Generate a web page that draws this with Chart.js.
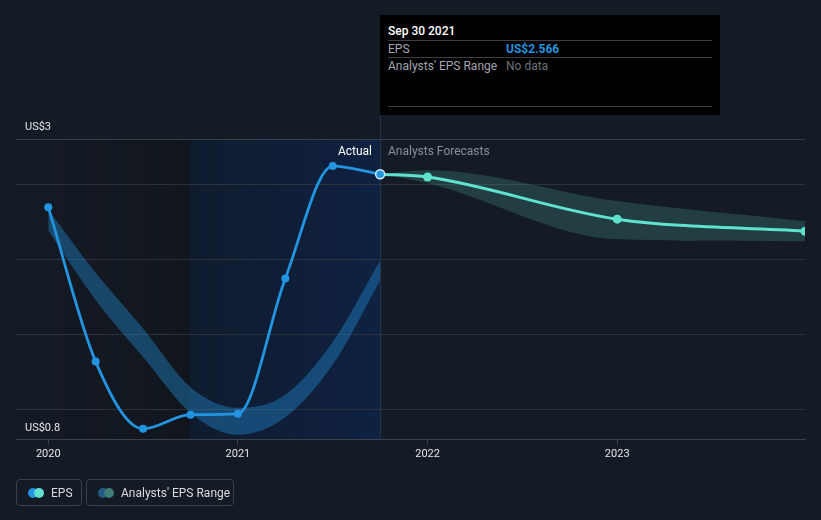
<!DOCTYPE html>
<html>
<head>
<meta charset="utf-8">
<script src="https://cdn.jsdelivr.net/npm/chart.js@4.4.0/dist/chart.umd.min.js"></script>
<style>
  html, body { margin: 0; padding: 0; background: #151b25; }
  #wrap { position: relative; width: 821px; height: 520px; overflow: hidden; font-family: Roboto, "Open Sans", sans-serif; }
  canvas { position: absolute; left: 0; top: 0; }
  .tip { position: absolute; background: #000; color: #fff; font-size: 12px; }
  .tip .row { position: absolute; left: 8px; right: 8px; height: 17px; line-height: 17px; border-top: 1px solid #3d3f44; }
  .tip .lab { position: absolute; left: 0; color: #a3a6ad; }
  .tip .val { position: absolute; left: 118px; }
  .note { position: absolute; font-size: 12px; line-height: 14px; white-space: nowrap; }
  .leg { position: absolute; top: 479px; height: 27px; border: 1px solid #3b404b; border-radius: 4px; font-size: 12px; color: #d8dade; line-height: 26px; box-sizing: border-box; }
  .leg .dots { position: absolute; left: 11px; top: 8px; width: 18px; height: 10px; }
  .leg .dots span { position: absolute; top: 0; width: 10px; height: 10px; border-radius: 50%; }
  .leg .txt { position: absolute; left: 34px; top: 0; white-space: nowrap; }
</style>
</head>
<body>
<div id="wrap">
  <canvas id="c" width="821" height="520"></canvas>
  <div class="tip" id="tip">
    <div style="position:absolute;left:8px;top:9px;font-weight:500;">Sep 30 2021</div>
    <div class="row" style="top:25px;"><span class="lab">EPS</span><span class="val" style="color:#2394df;font-weight:700;">US$2.566</span></div>
    <div class="row" style="top:42px;"><span class="lab">Analysts' EPS Range</span><span class="val" style="color:#6d7179;">No data</span></div>
    <div class="row" style="top:91px;"></div>
  </div>
  <div class="note" id="actual" style="color:#ffffff;">Actual</div>
  <div class="note" id="forecast" style="color:#8b8f97;">Analysts Forecasts</div>
  <div class="leg" style="left:16px;width:66px;">
    <div class="dots"><span style="left:0;background:#2394df;"></span><span style="left:6px;background:#5fe2ce;"></span></div>
    <div class="txt">EPS</div>
  </div>
  <div class="leg" style="left:86px;width:148px;">
    <div class="dots"><span style="left:0;background:#245a86;"></span><span style="left:6px;background:#3e7c76;"></span></div>
    <div class="txt">Analysts' EPS Range</div>
  </div>
</div>
<script>
// ---- data ----
const epsDates   = [2020.0, 2020.25, 2020.5, 2020.75, 2021.0, 2021.25, 2021.5, 2021.75];
const epsValues  = [2.347, 1.32, 0.873, 0.967, 0.973, 1.873, 2.62, 2.566];

const pastRangeDates = [2020.0, 2020.25, 2020.5, 2020.75, 2021.0, 2021.25, 2021.5, 2021.75];
const pastRangeHigh  = [2.33, 1.91, 1.54, 1.15, 1.013, 1.10, 1.45, 1.99];
const pastRangeLow   = [2.19, 1.73, 1.35, 0.98, 0.833, 0.95, 1.30, 1.86];

const fcDates  = [2021.75, 2022.0, 2023.0, 2023.99];
const fcValues = [2.566, 2.547, 2.267, 2.187];
const fcHigh   = [2.566, 2.593, 2.387, 2.253];
const fcLow    = [2.566, 2.507, 2.133, 2.12];

const xTickValues = [2020, 2021, 2022, 2023];
const yTickValues = [0.8, 1.0, 1.5, 2.0, 2.5, 2.8];
const yLabelMin = 'US$0.8';
const yLabelMax = 'US$3';
const nowDate = 2021.75;
const highlightStart = 2020.75;

const pts = (xs, ys) => xs.map((x, i) => ({ x: x, y: ys[i] }));

const bgPlugin = {
  id: 'bg',
  beforeDraw(chart) {
    const { ctx, chartArea: a, scales: { x } } = chart;
    const hx = x.getPixelForValue(highlightStart);
    const nx = x.getPixelForValue(nowDate);
    ctx.save();
    let g = ctx.createLinearGradient(a.left, 0, hx, 0);
    g.addColorStop(0, 'rgba(0,0,0,0)');
    g.addColorStop(1, 'rgba(0,0,0,0.18)');
    ctx.fillStyle = g;
    ctx.fillRect(a.left, a.top, hx - a.left, a.bottom - a.top);
    g = ctx.createLinearGradient(hx, 0, nx, 0);
    g.addColorStop(0, 'rgba(10,30,60,0.45)');
    g.addColorStop(1, 'rgba(10,40,90,0.55)');
    ctx.fillStyle = g;
    ctx.fillRect(hx, a.top, nx - hx, a.bottom - a.top);
    ctx.restore();
  },
  beforeDatasetsDraw(chart) {
    const { ctx, chartArea: a, scales: { x } } = chart;
    const nx = Math.round(x.getPixelForValue(nowDate)) + 0.5;
    ctx.save();
    ctx.strokeStyle = '#24344f';
    ctx.lineWidth = 1;
    ctx.beginPath();
    ctx.moveTo(nx, 15);
    ctx.lineTo(nx, a.bottom);
    ctx.stroke();
    ctx.restore();
  }
};

const chart = new Chart(document.getElementById('c'), {
  type: 'line',
  data: {
    datasets: [
      {
        label: 'EPS',
        data: pts(epsDates, epsValues),
        borderColor: '#2394df',
        backgroundColor: '#2394df',
        borderWidth: 2.8,
        pointRadius: epsValues.map((v, i) => i === epsValues.length - 1 ? 4.5 : 4),
        pointBackgroundColor: '#2394df',
        pointBorderColor: epsValues.map((v, i) => i === epsValues.length - 1 ? '#d8ecfb' : '#2394df'),
        pointBorderWidth: epsValues.map((v, i) => i === epsValues.length - 1 ? 1.5 : 0),
        cubicInterpolationMode: 'monotone',
        fill: false,
        order: 0
      },
      {
        label: 'Forecast',
        data: pts(fcDates, fcValues),
        borderColor: '#5fe2ce',
        backgroundColor: '#5fe2ce',
        borderWidth: 3,
        pointRadius: fcValues.map((v, i) => i === 0 ? 0 : 4.5),
        pointBorderWidth: 0,
        cubicInterpolationMode: 'monotone',
        fill: false,
        order: 1
      },
      {
        label: 'PastHigh',
        data: pts(pastRangeDates, pastRangeHigh),
        borderWidth: 0,
        borderColor: 'rgba(0,0,0,0)',
        pointRadius: 0,
        backgroundColor: 'rgba(35,148,223,0.38)',
        cubicInterpolationMode: 'monotone',
        fill: '+1',
        order: 2
      },
      {
        label: 'PastLow',
        data: pts(pastRangeDates, pastRangeLow),
        borderWidth: 0,
        borderColor: 'rgba(0,0,0,0)',
        pointRadius: 0,
        cubicInterpolationMode: 'monotone',
        fill: false,
        order: 3
      },
      {
        label: 'FcHigh',
        data: pts(fcDates, fcHigh),
        borderWidth: 0,
        borderColor: 'rgba(0,0,0,0)',
        pointRadius: 0,
        backgroundColor: 'rgba(93,224,205,0.18)',
        cubicInterpolationMode: 'monotone',
        fill: '+1',
        order: 4
      },
      {
        label: 'FcLow',
        data: pts(fcDates, fcLow),
        borderWidth: 0,
        borderColor: 'rgba(0,0,0,0)',
        pointRadius: 0,
        cubicInterpolationMode: 'monotone',
        fill: false,
        order: 5
      }
    ]
  },
  options: {
    responsive: false,
    animation: false,
    devicePixelRatio: 1,
    layout: { padding: { left: 16, right: 16, top: 139, bottom: 56 } },
    plugins: { legend: { display: false }, tooltip: { enabled: false } },
    scales: {
      x: {
        type: 'linear',
        min: 2019.83,
        max: 2023.99,
        afterBuildTicks: s => { s.ticks = xTickValues.map(v => ({ value: v })); },
        ticks: {
          color: '#e4e6ea',
          font: { family: 'Roboto', size: 11 },
          padding: 3,
          maxRotation: 0,
          autoSkip: false,
          callback: v => String(v)
        },
        grid: { drawOnChartArea: false, tickLength: 5, color: '#3c424d' },
        border: { color: '#3c424d', width: 1 }
      },
      y: {
        min: 0.8,
        max: 2.8,
        afterBuildTicks: s => { s.ticks = yTickValues.map(v => ({ value: v })); },
        afterFit: s => { s.width = 0; },
        ticks: {
          mirror: true,
          padding: 9,
          labelOffset: -12,
          color: '#e4e6ea',
          font: { family: 'Roboto', size: 11 },
          callback: v => (Math.abs(v - 0.8) < 1e-6 ? yLabelMin : Math.abs(v - 2.8) < 1e-6 ? yLabelMax : '')
        },
        grid: {
          drawTicks: false,
          color: ctx => {
            const v = ctx.tick ? ctx.tick.value : 0;
            if (Math.abs(v - 0.8) < 1e-6) return 'rgba(0,0,0,0)';
            if (Math.abs(v - 2.8) < 1e-6) return '#3a3f4a';
            return '#2c313b';
          }
        },
        border: { display: false }
      }
    }
  },
  plugins: [bgPlugin]
});

// place HTML overlays relative to the chart's scales
(function () {
  const nx = Math.round(chart.scales.x.getPixelForValue(nowDate));
  const a = chart.chartArea;
  const tip = document.getElementById('tip');
  tip.style.left = nx + 'px';
  tip.style.top = '15px';
  tip.style.width = '340px';
  tip.style.height = '100px';
  const act = document.getElementById('actual');
  act.style.top = (a.top + 5) + 'px';
  act.style.right = (821 - (nx - 8)) + 'px';
  const fc = document.getElementById('forecast');
  fc.style.top = (a.top + 5) + 'px';
  fc.style.left = (nx + 8) + 'px';
})();
</script>
</body>
</html>
